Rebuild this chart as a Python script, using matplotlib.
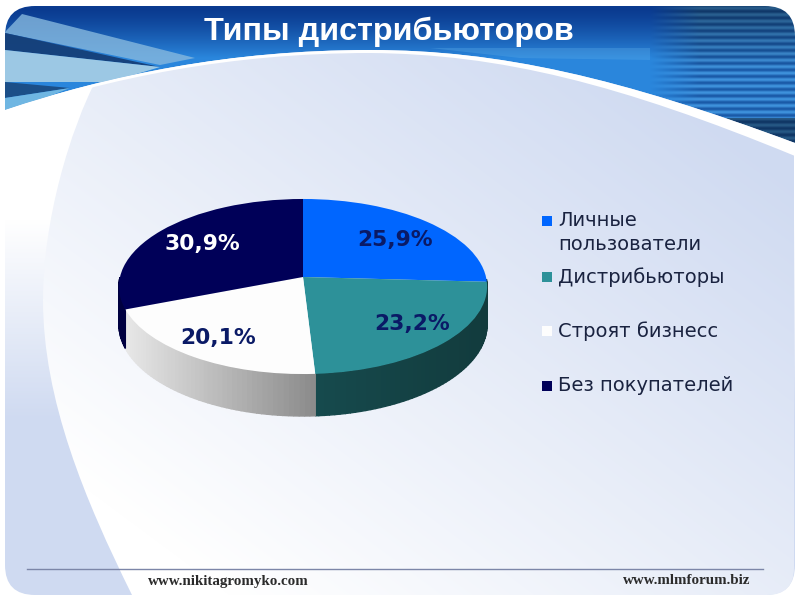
import numpy as np
import matplotlib
matplotlib.use("Agg")
import matplotlib.pyplot as plt
from matplotlib.path import Path
from matplotlib.patches import PathPatch

# Datos del gráfico
categorias = ["Личные\nпользователи", "Дистрибьюторы", "Строят бизнесс", "Без покупателей"]
valores = [25.9, 23.2, 20.1, 30.9]
colores = ["#0066ff", "#2d9199", "#fdfdfd", "#000058"]
titulo = "Типы дистрибьюторов"
web_izquierda = "www.nikitagromyko.com"
web_derecha = "www.mlmforum.biz"

# Colores de la pared lateral (izquierda, derecha) y de las etiquetas
lateral = [("#143f42", "#123b3d"), ("#164a4d", "#123b3d"), ("#e8e8e8", "#8a8a8a"), ("#000040", "#000040")]
color_etiqueta = ["#0a1a66", "#0a1a66", "#0a1a66", "#ffffff"]
pos_etiqueta = [(395, 240), (412, 324), (218, 338), (202, 244)]
y_leyenda = [221, 277, 331, 386]

# Perspectiva del disco (en píxeles)
CX, CY = 303, 277
A, B, C = 183, 86.5, 0.1086
PROFUNDIDAD = 37.4


def proyectar(u, v):
    w = 1 + C * v
    return CX + A * u / w, CY - B * v / w


def hex_rgb(c):
    return np.array(matplotlib.colors.to_rgb(c))


def mezcla(c1, c2, t):
    t = np.asarray(t)[..., None]
    return hex_rgb(c1) * (1 - t) + hex_rgb(c2) * t


fig = plt.figure(figsize=(8, 6), dpi=100)
fig.patch.set_facecolor("white")
ax = fig.add_axes([0, 0, 1, 1])

xx, yy = np.meshgrid(np.arange(800) + 0.5, np.arange(600) + 0.5)
extent = (0, 800, 600, 0)

# Fondo: tarjeta redondeada con franja izquierda
V = [
    (5, 36), (5, 6), (35, 6), (765, 6), (795, 6), (795, 36), (795, 565),
    (795, 595), (765, 595), (35, 595), (5, 595), (5, 565), (5, 36),
]
K = [Path.MOVETO, Path.CURVE3, Path.CURVE3, Path.LINETO, Path.CURVE3, Path.CURVE3,
     Path.LINETO, Path.CURVE3, Path.CURVE3, Path.LINETO, Path.CURVE3, Path.CURVE3, Path.CLOSEPOLY]
tarjeta = PathPatch(Path(V, K), fc="none", ec="none", transform=ax.transData)
ax.add_patch(tarjeta)
franja = mezcla("#ffffff", "#cfdaf1", np.clip((yy - 220) / 200, 0, 1))
ax.imshow(franja, extent=extent, aspect="auto", zorder=1).set_clip_path(tarjeta)

# Fondo: forma curva con degradado blanco -> azul
V = [
    (97, 78), (70, 130), (43, 220), (43, 300), (43, 400), (85, 500), (132, 595),
    (767, 595), (794, 595), (794, 568), (794, 130), (650, 60), (370, 40), (97, 78),
]
K = [Path.MOVETO, Path.CURVE4, Path.CURVE4, Path.CURVE4, Path.CURVE4, Path.CURVE4, Path.CURVE4,
     Path.LINETO, Path.CURVE3, Path.CURVE3, Path.LINETO, Path.LINETO, Path.LINETO, Path.CLOSEPOLY]
forma = PathPatch(Path(V, K), fc="none", ec="none", transform=ax.transData)
ax.add_patch(forma)
t = np.clip(0.62 * (xx - 100) / 700 + 0.62 * (600 - yy) / 520 - 0.12, 0, 1)
ax.imshow(mezcla("#ffffff", "#cfdaf1", t), extent=extent, aspect="auto", zorder=2).set_clip_path(forma)

# Cabecera azul
V = [
    (5, 110), (110, 75), (230, 50), (370, 50), (500, 50), (620, 78), (795, 143),
    (795, 36), (795, 6), (765, 6), (35, 6), (5, 6), (5, 36), (5, 110),
]
K = [Path.MOVETO, Path.CURVE4, Path.CURVE4, Path.CURVE4, Path.CURVE4, Path.CURVE4, Path.CURVE4,
     Path.LINETO, Path.CURVE3, Path.CURVE3, Path.LINETO, Path.CURVE3, Path.CURVE3, Path.CLOSEPOLY]
cabecera = PathPatch(Path(V, K), fc="none", ec="none", transform=ax.transData)
ax.add_patch(cabecera)
base = mezcla("#0a3a8f", "#2a86dc", np.clip((yy - 8) / 50, 0, 1) ** 1.3)
rayas = mezcla("#1a5aa8", "#3f92dc", 0.5 + 0.5 * np.sin(2 * np.pi * yy / 6.5))
rayas = rayas * (0.62 + 0.38 * np.clip((yy - 10) / 60, 0, 1))[..., None]
rayas[yy > 118] = rayas[yy > 118] * 0.6
m = np.clip((xx - 650) / 50, 0, 1)[..., None]
img = ax.imshow(base * (1 - m) + rayas * m, extent=extent, aspect="auto", zorder=3)
img.set_clip_path(cabecera)

# Rayas de la esquina izquierda
estelas = [
    ([5, 5, 22, 195, 160], [33, 32, 14, 58, 65], "#86b8de", 0.8),
    ([5, 5, 160], [33, 50, 67], "#153f78", 0.95),
    ([5, 5, 110, 160], [50, 82, 82, 67], "#a9d0e6", 0.9),
    ([5, 5, 70], [82, 98, 88], "#1b4f88", 1.0),
    ([5, 5, 45, 70], [98, 112, 98, 88], "#6fb6e2", 1.0),
    ([430, 650, 650, 520], [48, 48, 60, 58], "#5aaae6", 0.35),
]
for xs, ys, col, alfa in estelas:
    p = ax.fill(xs, ys, color=col, lw=0, zorder=4, alpha=alfa)[0]
    p.set_clip_path(cabecera)

# Borde blanco bajo la cabecera
V = [
    (5, 110), (110, 75), (230, 50), (370, 50), (500, 50), (620, 78), (795, 143),
    (795, 156), (620, 84), (500, 54), (370, 53), (230, 53), (110, 78), (5, 113), (5, 110),
]
K = [Path.MOVETO] + [Path.CURVE4] * 6 + [Path.LINETO] + [Path.CURVE4] * 6 + [Path.CLOSEPOLY]
ax.add_patch(PathPatch(Path(V, K), fc="white", ec="none", lw=0, zorder=5))

# Tapa del disco: los sectores salen de pie() y se llevan a perspectiva
total = sum(valores)
sectores, _ = ax.pie(valores, colors=colores, startangle=90, counterclock=False, wedgeprops={"lw": 0})
for s in sectores:
    s.set_zorder(8)
    path = s.get_path()
    x, y = proyectar(path.vertices[:, 0].copy(), path.vertices[:, 1].copy())
    path.vertices[:, 0] = x
    path.vertices[:, 1] = y

# Pared lateral (solo la mitad delantera del disco)
inicio = 0.0
for valor, (c1, c2) in zip(valores, lateral):
    fin = inicio + 360 * valor / total
    angulos = np.radians(np.arange(inicio, fin + 1.5, 1.5))
    angulos = np.minimum(angulos, np.radians(fin))
    for i in range(len(angulos) - 1):
        a = angulos[i:i + 2]
        u, v = np.sin(a), np.cos(a)
        if v.max() > 0:
            continue
        px, py = proyectar(u, v)
        bajo = py + PROFUNDIDAD / (1 + C * v)
        f = (px.mean() - 125) / 191 if c1 == "#e8e8e8" else (px.mean() - 316) / 170
        col = mezcla(c1, c2, np.clip(f, 0, 1))
        ax.fill(
            [px[0], px[1], px[1], px[0]], [py[0], py[1], bajo[1], bajo[0]],
            color=tuple(col), lw=1.0, zorder=7,
        )
    inicio = fin

# Etiquetas de porcentaje
for valor, (x, y), col in zip(valores, pos_etiqueta, color_etiqueta):
    ax.text(x, y, f"{valor:.1f}%".replace(".", ","), color=col, fontsize=15.7, fontweight="bold",
            family="DejaVu Sans", ha="center", va="center", zorder=9)

# Leyenda
for nombre, y, col in zip(categorias, y_leyenda, colores):
    ax.scatter([547], [y], marker="s", s=48, color=col, linewidths=0, zorder=9)
    ax.text(558, y - 10, nombre, fontsize=14, family="DejaVu Sans", color="#1a2340",
            ha="left", va="top", linespacing=1.35, zorder=9)

# Títulos y pie
ax.text(389, 32, titulo, color="white", fontsize=23.3, fontweight="bold", family="Liberation Sans",
        ha="center", va="center", zorder=9)
ax.plot([27, 763], [569, 569], color="#7c86a8", lw=1, zorder=6)
ax.text(148, 581, web_izquierda, fontsize=10.8, fontweight="bold", family="Liberation Serif",
        color="#2b2b2b", ha="left", va="center", zorder=9)
ax.text(750, 581, web_derecha, fontsize=10.8, fontweight="bold", family="Liberation Serif",
        color="#2b2b2b", ha="right", va="center", zorder=9)

ax.set_aspect("auto")
ax.set_xlim(0, 800)
ax.set_ylim(600, 0)
ax.axis("off")
fig.savefig("out.png", dpi=100)
